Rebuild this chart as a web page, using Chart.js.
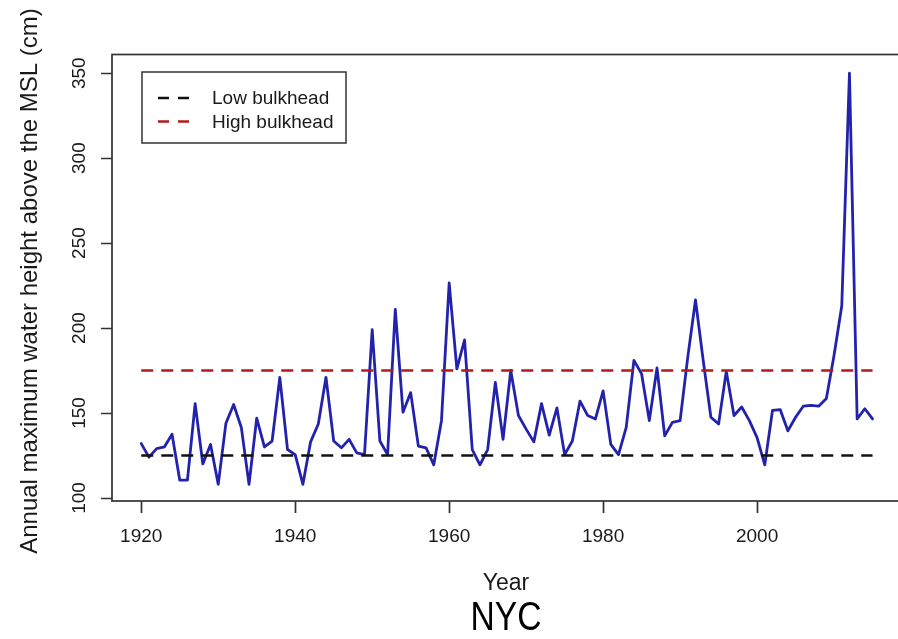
<!DOCTYPE html>
<html>
<head>
<meta charset="utf-8">
<title>NYC annual maximum water height</title>
<script src="https://cdn.jsdelivr.net/npm/chart.js@4.4.1/dist/chart.umd.min.js"></script>
<style>
  html, body { margin: 0; padding: 0; background: #ffffff; overflow: hidden; }
  #wrap { width: 898px; height: 639px; overflow: hidden; }
  canvas { display: block; }
</style>
</head>
<body>
<div id="wrap"><canvas id="chart" width="906" height="639"></canvas></div>
<script>
// Observation years at the Battery, NYC
const years = [
  1920, 1921, 1922, 1923, 1924, 1925, 1926, 1927, 1928, 1929,
  1930, 1931, 1932, 1933, 1934, 1935, 1936, 1937, 1938, 1939,
  1940, 1941, 1942, 1943, 1944, 1945, 1946, 1947, 1948, 1949,
  1950, 1951, 1952, 1953, 1954, 1955, 1956, 1957, 1958, 1959,
  1960, 1961, 1962, 1963, 1964, 1965, 1966, 1967, 1968, 1969,
  1970, 1971, 1972, 1973, 1974, 1975, 1976, 1977, 1978, 1979,
  1980, 1981, 1982, 1983, 1984, 1985, 1986, 1987, 1988, 1989,
  1990, 1991, 1992, 1993, 1994, 1995, 1996, 1997, 1998, 1999,
  2000, 2001, 2002, 2003, 2004, 2005, 2006, 2007, 2008, 2009,
  2010, 2011, 2012, 2013, 2014, 2015
];

// Annual maximum water height above the MSL (cm)
const annualMax = [
  132, 124, 129, 130, 137.5, 110.5, 110.5, 155.5, 120, 131.5,
  108, 144, 155, 141.5, 108, 147, 130, 133.5, 171, 128.5,
  125.5, 108, 133, 143.5, 171, 133.5, 129.5, 134.5, 126.5, 125.5,
  199, 133.5, 125.5, 211, 150.5, 162, 130.5, 129.5, 119.5, 145.5,
  226.5, 176, 193, 128.5, 119.5, 128.5, 168, 134.5, 175, 148.5,
  140.5, 133, 155.5, 137, 153, 125.5, 133.5, 157, 148.5, 146.5,
  163, 131.5, 125.5, 141.5, 181, 173, 145.5, 176.5, 136.5, 144.5,
  145.5, 183, 216.5, 181, 147.5, 143.5, 174.5, 148.5, 153.5, 145.5,
  135.5, 119.5, 151.5, 152, 139.5, 147.5, 154, 154.5, 154, 158.5,
  184, 213, 350, 146.5, 152.5, 146.5
];

// Bulkhead design heights (cm) and the span of years they are drawn over
const lowBulkhead = 125;
const highBulkhead = 175;
const bulkheadSpan = [1920, 2015];

// Axis ticks
const xTickValues = [1920, 1940, 1960, 1980, 2000];
const xTickLabels = ['1920', '1940', '1960', '1980', '2000'];
const yTickValues = [100, 150, 200, 250, 300, 350];
const yTickLabels = ['100', '150', '200', '250', '300', '350'];

// Text
const xTitle = 'Year';
const yTitle = 'Annual maximum water height above the MSL (cm)';
const caption = 'NYC';
const legendLabels = ['Low bulkhead', 'High bulkhead'];

const FONT = '"Liberation Sans", Arial, Helvetica, sans-serif';
const COL_LINE = '#2222ac';
const COL_LOW = '#111111';
const COL_HIGH = '#b01c1c';
const COL_AXIS = '#333333';
const COL_TEXT = '#1a1a1a';

const seriesPoints = years.map((yr, i) => ({ x: yr, y: annualMax[i] }));
const levelPoints = (lvl) => bulkheadSpan.map(yr => ({ x: yr, y: lvl }));

// Base-graphics style frame, ticks, labels, titles and legend
const baseGraphics = {
  id: 'baseGraphics',
  afterDatasetsDraw(chart) {
    const { ctx, chartArea: a, scales: { x, y } } = chart;
    ctx.save();

    // plot box
    ctx.strokeStyle = COL_AXIS;
    ctx.lineWidth = 1.7;
    ctx.strokeRect(a.left, a.top, a.right - a.left, a.bottom - a.top);

    // tick marks
    ctx.beginPath();
    xTickValues.forEach(v => {
      const px = Math.round(x.getPixelForValue(v)) + 0.5;
      ctx.moveTo(px, a.bottom);
      ctx.lineTo(px, a.bottom + 12);
    });
    yTickValues.forEach(v => {
      const py = Math.round(y.getPixelForValue(v)) + 0.5;
      ctx.moveTo(a.left, py);
      ctx.lineTo(a.left - 11, py);
    });
    ctx.stroke();

    // tick labels
    ctx.fillStyle = COL_TEXT;
    ctx.font = '19px ' + FONT;
    ctx.textAlign = 'center';
    ctx.textBaseline = 'middle';
    xTickValues.forEach((v, i) => {
      ctx.fillText(xTickLabels[i], x.getPixelForValue(v), 537);
    });
    yTickValues.forEach((v, i) => {
      ctx.save();
      ctx.translate(80, y.getPixelForValue(v));
      ctx.rotate(-Math.PI / 2);
      ctx.fillText(yTickLabels[i], 0, 0);
      ctx.restore();
    });

    // axis titles
    ctx.font = '23px ' + FONT;
    ctx.fillText(xTitle, 506, 584);
    ctx.save();
    ctx.translate(30, 281);
    ctx.rotate(-Math.PI / 2);
    ctx.font = '24px ' + FONT;
    ctx.fillText(yTitle, 0, 0);
    ctx.restore();

    // caption under the plot
    ctx.save();
    ctx.translate(506, 619);
    ctx.scale(0.84, 1);
    ctx.fillStyle = '#000000';
    ctx.font = '40px ' + FONT;
    ctx.fillText(caption, 0, 0);
    ctx.restore();

    // legend box
    ctx.strokeStyle = COL_AXIS;
    ctx.lineWidth = 1.5;
    ctx.strokeRect(142, 72, 204, 71);
    const rows = [
      { label: legendLabels[0], color: COL_LOW, y: 98 },
      { label: legendLabels[1], color: COL_HIGH, y: 121.5 }
    ];
    ctx.textAlign = 'left';
    ctx.font = '19px ' + FONT;
    rows.forEach(r => {
      ctx.strokeStyle = r.color;
      ctx.lineWidth = 2.5;
      ctx.setLineDash([11, 9]);
      ctx.beginPath();
      ctx.moveTo(158, r.y);
      ctx.lineTo(190, r.y);
      ctx.stroke();
      ctx.setLineDash([]);
      ctx.fillStyle = COL_TEXT;
      ctx.fillText(r.label, 212, r.y + 1);
    });

    ctx.restore();
  }
};

new Chart(document.getElementById('chart'), {
  type: 'line',
  data: {
    datasets: [
      {
        label: legendLabels[0],
        data: levelPoints(lowBulkhead),
        borderColor: COL_LOW,
        borderWidth: 2.5,
        borderDash: [12, 8],
        borderCapStyle: 'butt',
        pointRadius: 0,
        fill: false
      },
      {
        label: legendLabels[1],
        data: levelPoints(highBulkhead),
        borderColor: COL_HIGH,
        borderWidth: 2.5,
        borderDash: [12, 8],
        borderCapStyle: 'butt',
        pointRadius: 0,
        fill: false
      },
      {
        label: 'Annual maximum',
        data: seriesPoints,
        borderColor: COL_LINE,
        borderWidth: 2.8,
        borderJoinStyle: 'round',
        borderCapStyle: 'round',
        pointRadius: 0,
        tension: 0,
        fill: false
      }
    ]
  },
  options: {
    responsive: false,
    animation: false,
    devicePixelRatio: 1,
    layout: { padding: { left: 112, top: 54.5, right: 4.2, bottom: 138 } },
    plugins: {
      legend: { display: false },
      tooltip: { enabled: false },
      title: { display: false }
    },
    scales: {
      x: { type: 'linear', min: 1916.2, max: 2018.8, display: false },
      y: { type: 'linear', min: 98.2, max: 361, display: false }
    }
  },
  plugins: [baseGraphics]
});
</script>
</body>
</html>
